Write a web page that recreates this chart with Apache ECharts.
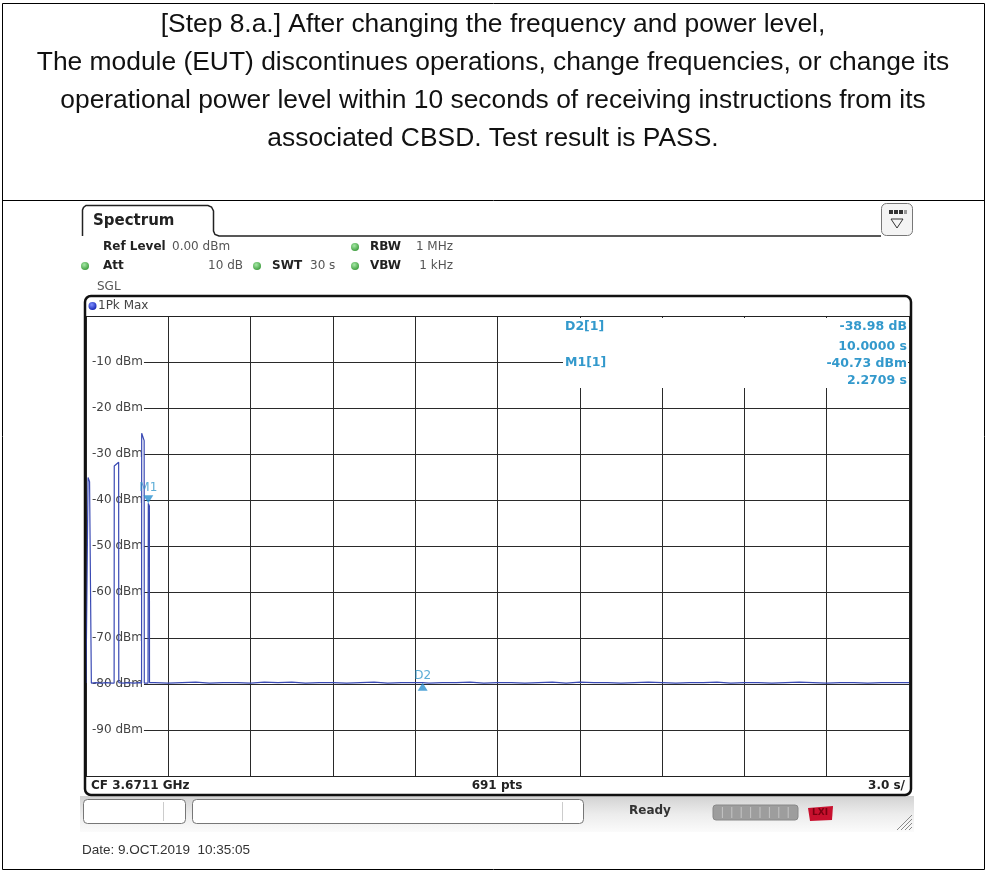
<!DOCTYPE html>
<html><head><meta charset="utf-8">
<script src="https://cdn.jsdelivr.net/npm/echarts@6/dist/echarts.min.js"></script>
<style>html,body{margin:0;padding:0;background:#fff}#c{width:987px;height:871px}</style>
</head><body><div id="c"></div>
<script>
// ---------- data ----------
const headerLines = [
  '[Step 8.a.] After changing the frequency and power level,',
  'The module (EUT) discontinues operations, change frequencies, or change its',
  'operational power level within 10 seconds of receiving instructions from its',
  'associated CBSD. Test result is PASS.'
];
const sweepTime = 30;          // s (3.0 s/div)
const refLevel = 0;            // dBm
const bottomLevel = -100;      // dBm
const levelStep = 10;          // dB/div
const timeStep = 3;            // s/div

// trace (1Pk Max), time in s, level in dBm
const traceTime = [
  0.00, 0.07, 0.075, 0.12, 0.13, 0.19, 0.195,
  0.35, 0.55, 0.75, 0.95, 1.025,
  1.03, 1.10, 1.19, 1.195,
  1.35, 1.55, 1.75, 1.95, 2.025,
  2.03, 2.12, 2.125,
  2.18, 2.26, 2.2709, 2.31, 2.315,
  2.5, 3.0, 3.5, 4.0, 4.5, 5.0, 5.5, 6.0, 6.5, 7.0, 7.5, 8.0, 8.5, 9.0, 9.5,
  10.0, 10.5, 11.0, 11.5, 12.0, 12.2709, 12.5, 13.0, 13.5, 14.0, 14.5, 15.0, 15.5,
  16.0, 16.5, 17.0, 17.5, 18.0, 18.5, 19.0, 19.5, 20.0, 20.5, 21.0, 21.5,
  22.0, 22.5, 23.0, 23.5, 24.0, 24.5, 25.0, 25.5, 26.0, 26.5, 27.0, 27.5,
  28.0, 28.5, 29.0, 29.5, 30.0
];
const traceLevel = [
  -79.8, -79.8, -35.1, -35.3, -36.0, -36.0, -79.8,
  -79.7, -79.8, -79.7, -79.8, -79.8,
  -32.6, -32.2, -31.8, -79.7,
  -79.8, -79.7, -79.8, -79.7, -79.8,
  -25.5, -27.1, -79.8,
  -79.7, -79.8, -40.73, -41.3, -79.7,
  -79.7, -79.8, -79.7, -79.6, -79.8, -79.7, -79.7, -79.8, -79.6, -79.7, -79.6, -79.8, -79.7, -79.7, -79.8,
  -79.7, -79.6, -79.8, -79.7, -79.7, -79.71, -79.8, -79.7, -79.7, -79.6, -79.8, -79.7, -79.7,
  -79.8, -79.7, -79.6, -79.8, -79.6, -79.7, -79.7, -79.8, -79.7, -79.6, -79.7, -79.8,
  -79.7, -79.7, -79.6, -79.8, -79.7, -79.7, -79.8, -79.7, -79.6, -79.7, -79.8, -79.7,
  -79.7, -79.8, -79.7, -79.7, -79.7
];

const markerNames = ['M1', 'D2'];
const markerTime = [2.2709, 12.2709];
const markerLevel = [-40.73, -79.71];

const markerTable = [
  ['D2[1]', '-38.98 dB', '10.0000 s'],
  ['M1[1]', '-40.73 dBm', '2.2709 s']
];
const infoLeft = 'CF 3.6711 GHz';
const infoCenter = '691 pts';
const infoRight = '3.0 s/';
const dateText = 'Date: 9.OCT.2019  10:35:05';

// ---------- chart ----------
const chart = echarts.init(document.getElementById('c'), null, {renderer: 'canvas'});
const INSTR = 'DejaVu Sans, Verdana, sans-serif';
const MK = '#3399cc';

const traceData = traceTime.map((t, i) => [t, traceLevel[i]]);
const markerData = markerTime.map((t, i) => ({
  value: [t, markerLevel[i]],
  name: markerNames[i],
  symbolRotate: i === 0 ? 180 : 0,
  symbolOffset: i === 0 ? [0, -4] : [0, 4]
}));

function lin(c0, c1, c2) {
  return {type: 'linear', x: 0, y: 0, x2: 0, y2: 1,
    colorStops: [{offset: 0, color: c0}, {offset: 0.5, color: c1}, {offset: 1, color: c2}]};
}
function rad(c0, c1) {
  return {type: 'radial', x: 0.4, y: 0.35, r: 0.7,
    colorStops: [{offset: 0, color: c0}, {offset: 1, color: c1}]};
}
function txt(x, y, text, opt) {
  opt = opt || {};
  return {
    type: 'text', x: x, y: y, z: opt.z || 20, silent: true,
    style: {
      text: text, fill: opt.color || '#333',
      font: (opt.weight || 'normal') + ' ' + (opt.size || 12) + 'px ' + (opt.family || INSTR),
      align: opt.align || 'left', verticalAlign: 'middle',
      textAlign: opt.align || 'left', textVerticalAlign: 'middle'
    }
  };
}
function line(x1, y1, x2, y2, color, w, z) {
  return {type: 'line', silent: true, z: z || 20,
    shape: {x1: x1, y1: y1, x2: x2, y2: y2},
    style: {stroke: color || '#000', lineWidth: w || 1}};
}
function dot(cx, cy, r, color, z) {
  return {type: 'circle', silent: true, z: z || 20, shape: {cx: cx, cy: cy, r: r},
    style: {fill: color}};
}

const graphics = [];
// outer document table
graphics.push({type: 'rect', silent: true, z: 30, shape: {x: 2.5, y: 3.5, width: 982, height: 866},
  style: {fill: 'none', stroke: '#000', lineWidth: 1}});
graphics.push(line(2.5, 200.5, 984.5, 200.5, '#000', 1, 30));
headerLines.forEach((s, i) => {
  graphics.push(txt(493, 25 + i * 38, s, {size: 26.4, family: 'Liberation Sans, Arial, sans-serif', color: '#111', align: 'center'}));
});

// Spectrum tab
graphics.push({type: 'polyline', silent: true, z: 20,
  shape: {points: [[82.5, 236], [82.5, 210], [83.5, 207.5], [86, 205.5], [208, 205.5], [211.5, 207], [213.5, 211],
    [213.5, 231], [215, 234.5], [219, 236], [881, 236]]},
  style: {fill: 'none', stroke: '#222', lineWidth: 1.5}});
graphics.push(txt(93, 221, 'Spectrum', {size: 15, weight: 'bold', color: '#222'}));
// menu icon
graphics.push({type: 'rect', silent: true, z: 20, shape: {x: 881.5, y: 203.5, width: 31, height: 32, r: 5},
  style: {fill: '#f4f4f4', stroke: '#777', lineWidth: 1}});
[0, 1, 2].forEach(k => graphics.push({type: 'rect', silent: true, z: 21,
  shape: {x: 889 + k * 5, y: 210, width: 4, height: 4}, style: {fill: '#333'}}));
graphics.push({type: 'rect', silent: true, z: 21, shape: {x: 904, y: 210, width: 3, height: 4}, style: {fill: '#999'}});
graphics.push({type: 'polygon', silent: true, z: 21, shape: {points: [[891, 219], [903, 219], [897, 228]]},
  style: {fill: 'none', stroke: '#333', lineWidth: 1}});

// settings
const GREEN = rad('#a5e8a5', '#3a9a3a');
graphics.push(txt(103, 247, 'Ref Level', {weight: 'bold', color: '#222'}));
graphics.push(txt(172, 247, '0.00 dBm', {color: '#555'}));
graphics.push(dot(355, 247, 4, GREEN));
graphics.push(txt(370, 247, 'RBW', {weight: 'bold', color: '#222'}));
graphics.push(txt(453, 247, '1 MHz', {color: '#555', align: 'right'}));
graphics.push(dot(85, 266, 4, GREEN));
graphics.push(txt(103, 266, 'Att', {weight: 'bold', color: '#222'}));
graphics.push(txt(243, 266, '10 dB', {color: '#555', align: 'right'}));
graphics.push(dot(257, 266, 4, GREEN));
graphics.push(txt(272, 266, 'SWT', {weight: 'bold', color: '#222'}));
graphics.push(txt(310, 266, '30 s', {color: '#555'}));
graphics.push(dot(355, 266, 4, GREEN));
graphics.push(txt(370, 266, 'VBW', {weight: 'bold', color: '#222'}));
graphics.push(txt(453, 266, '1 kHz', {color: '#555', align: 'right'}));
graphics.push(txt(97, 287, 'SGL', {color: '#555'}));

// diagram frame
graphics.push({type: 'rect', silent: true, z: 25, shape: {x: 85, y: 296, width: 826, height: 499, r: 6},
  style: {fill: 'none', stroke: '#111', lineWidth: 2.5}});
graphics.push(dot(92.5, 306, 4, rad('#7f8fff', '#1020b0')));
graphics.push(txt(98, 306, '1Pk Max', {color: '#444'}));
graphics.push(line(85, 316.5, 911, 316.5, '#222', 1.2, 24));
graphics.push(line(85, 776.5, 911, 776.5, '#222', 1.2, 24));
graphics.push(txt(91, 786, infoLeft, {weight: 'bold', color: '#222'}));
graphics.push(txt(497, 786, infoCenter, {weight: 'bold', color: '#222', align: 'center'}));
graphics.push(txt(905, 786, infoRight, {weight: 'bold', color: '#222', align: 'right'}));

// marker table box
graphics.push({type: 'rect', silent: true, z: 8, shape: {x: 563, y: 318, width: 345, height: 70},
  style: {fill: '#fff'}});
graphics.push(txt(565, 327, markerTable[0][0], {weight: 'bold', color: MK, size: 12.5, z: 9}));
graphics.push(txt(907, 327, markerTable[0][1], {weight: 'bold', color: MK, size: 12.5, align: 'right', z: 9}));
graphics.push(txt(907, 347, markerTable[0][2], {weight: 'bold', color: MK, size: 12.5, align: 'right', z: 9}));
graphics.push(txt(565, 363, markerTable[1][0], {weight: 'bold', color: MK, size: 12.5, z: 9}));
graphics.push(txt(907, 364, markerTable[1][1], {weight: 'bold', color: MK, size: 12.5, align: 'right', z: 9}));
graphics.push(txt(907, 381, markerTable[1][2], {weight: 'bold', color: MK, size: 12.5, align: 'right', z: 9}));

// status bar
graphics.push({type: 'rect', silent: true, z: 10, shape: {x: 80, y: 796, width: 834, height: 36},
  style: {fill: lin('#d2d2d2', '#ececec', '#fbfbfb')}});
graphics.push({type: 'rect', silent: true, z: 20, shape: {x: 83.5, y: 799.5, width: 102, height: 24, r: 4},
  style: {fill: '#fff', stroke: '#777', lineWidth: 1}});
graphics.push(line(163.5, 802, 163.5, 821, '#ccc', 1, 21));
graphics.push({type: 'rect', silent: true, z: 20, shape: {x: 192.5, y: 799.5, width: 391, height: 24, r: 4},
  style: {fill: '#fff', stroke: '#777', lineWidth: 1}});
graphics.push(line(562.5, 802, 562.5, 821, '#ccc', 1, 21));
graphics.push(txt(650, 811, 'Ready', {weight: 'bold', color: '#333', align: 'center'}));
graphics.push({type: 'rect', silent: true, z: 20, shape: {x: 713, y: 805, width: 85, height: 15, r: 3},
  style: {fill: '#9d9d9d', stroke: '#888', lineWidth: 1}});
for (let k = 1; k < 9; k++) graphics.push(line(713 + k * 9.4, 807, 713 + k * 9.4, 818, '#c4c4c4', 1, 21));
graphics.push({type: 'polygon', silent: true, z: 20, shape: {points: [[808, 808], [833, 806], [832, 820], [810, 821]]},
  style: {fill: '#c8102e'}});
graphics.push(txt(820, 813, 'LXI', {weight: 'bold', size: 9, color: '#7a0010', align: 'center', z: 21}));
[0, 1, 2, 3].forEach(k => graphics.push(line(897 + k * 4, 830, 912, 815 + k * 4, '#888', 1, 21)));

// date
graphics.push(txt(82, 850, dateText, {size: 13.5, family: 'Liberation Sans, Arial, sans-serif', color: '#333'}));

const option = {
  animation: false,
  backgroundColor: '#fff',
  grid: {left: 86, top: 316, width: 823, height: 460, show: false},
  xAxis: {
    type: 'value', min: 0, max: sweepTime, interval: timeStep,
    axisLine: {show: false}, axisTick: {show: false}, axisLabel: {show: false},
    splitLine: {show: true, lineStyle: {color: '#2a2a2a', width: 1}}
  },
  yAxis: [{
    type: 'value', min: bottomLevel, max: refLevel, interval: levelStep, z: 0,
    axisLine: {show: false}, axisTick: {show: false}, axisLabel: {show: false},
    splitLine: {show: true, lineStyle: {color: '#2a2a2a', width: 1}}
  }, {
    type: 'value', min: bottomLevel, max: refLevel, interval: levelStep, z: 1, position: 'left',
    axisLine: {show: false}, axisTick: {show: false}, splitLine: {show: false},
    axisLabel: {
      show: true, inside: true, margin: 1, showMinLabel: false, showMaxLabel: false,
      formatter: v => v + ' dBm', color: '#444', fontFamily: INSTR, fontSize: 12,
      backgroundColor: '#fff', padding: [1, 1, 1, 5]
    }
  }],
  series: [{
    type: 'line', name: '1Pk Max', data: traceData, yAxisIndex: 0, z: 3,
    showSymbol: false, symbol: 'none',
    lineStyle: {color: '#3a4ab4', width: 1.2}
  }, {
    type: 'scatter', name: 'markers', data: markerData, yAxisIndex: 0, z: 4,
    symbol: 'triangle', symbolSize: [10, 8],
    itemStyle: {color: '#2a90d0'},
    label: {show: true, position: 'top', distance: 1, formatter: p => p.name,
      color: MK, fontFamily: INSTR, fontSize: 12}
  }],
  graphic: graphics
};
chart.setOption(option);
</script></body></html>
